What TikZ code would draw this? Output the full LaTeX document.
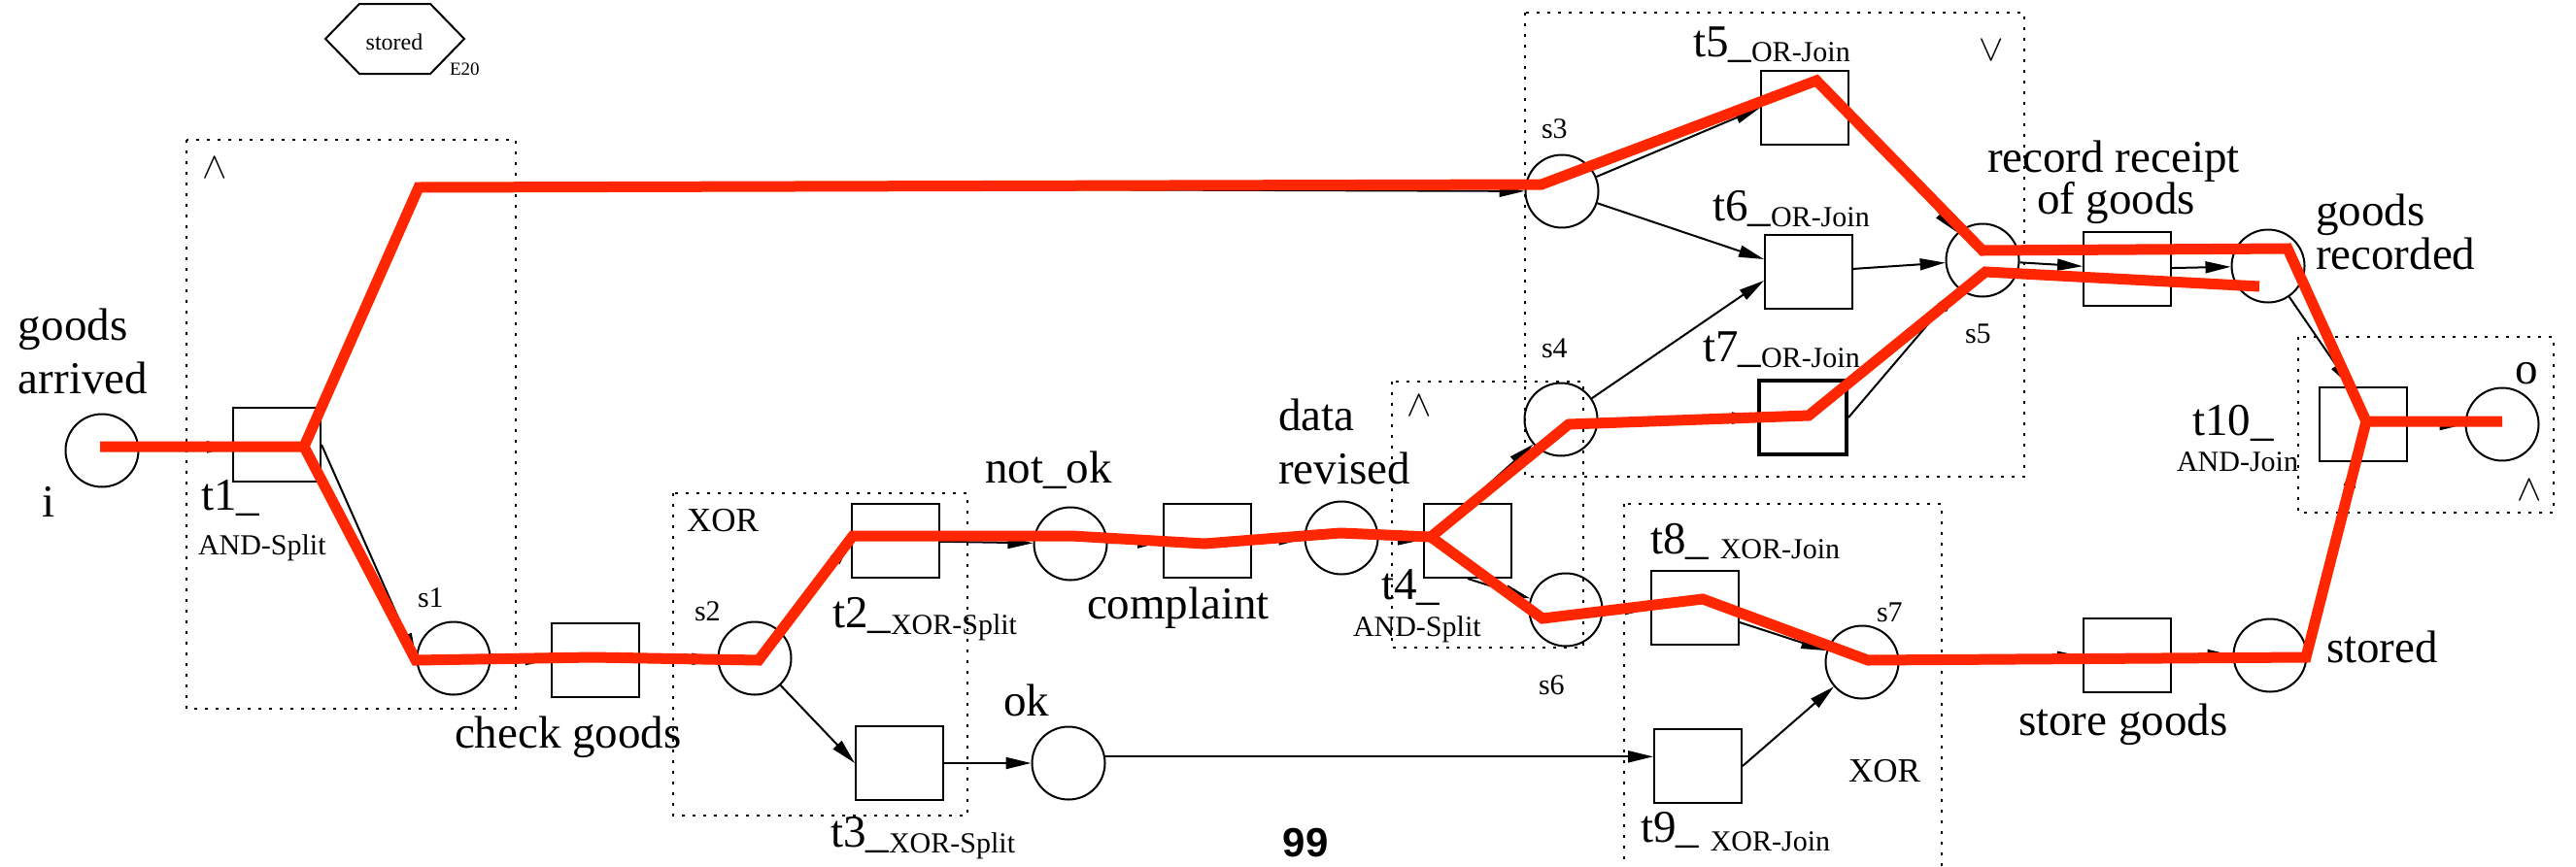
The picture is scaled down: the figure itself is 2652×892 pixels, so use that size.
\documentclass[tikz,border=0pt]{standalone}
\usepackage{fontspec}
\setmainfont{Liberation Serif}
\newfontfamily\numfont{Liberation Sans}
\usetikzlibrary{arrows.meta}
\definecolor{tracered}{RGB}{255,38,0}
\newcommand\biglab{\fontsize{47}{52}\selectfont}
\newcommand\smalllab{\fontsize{30}{34}\selectfont}
\newcommand\xorlab{\fontsize{35}{40}\selectfont}
\newcommand\andsym{\scalebox{3.8}{$\wedge$}}
\newcommand\orsym{\scalebox{3.8}{$\vee$}}
\begin{document}
\begin{tikzpicture}[x=1pt,y=-1pt,
  place/.style={circle, draw, line width=2pt, minimum size=75pt, inner sep=0pt},
  trans/.style={rectangle, draw, line width=2pt, minimum width=90pt, minimum height=76pt, inner sep=0pt},
  flow/.style={line width=2pt, -{Triangle[length=26pt,width=12pt]}},
  grp/.style={draw, line width=2pt, dash pattern=on 3pt off 8pt},
  trace/.style={line width=11pt, draw=tracered},
  lab/.style={anchor=base west, inner sep=0pt, outer sep=0pt},
  big/.style={lab, font=\biglab},
  small/.style={lab, font=\smalllab}]
\useasboundingbox (0,0) rectangle (2652,892);

% group boxes
\draw[grp] (192,144) rectangle (531,730);
\draw[grp] (693,508) rectangle (996,840);
\draw[grp] (1433,393) rectangle (1630,667);
\draw[grp] (1570,13) rectangle (2084,491);
\draw[grp] (2366,347) rectangle (2629,528);
\draw[grp] (1672,519) rectangle (1999,905);

% hexagon event
\draw[line width=2pt] (335,40) -- (370,4) -- (443,4) -- (478,40) -- (443,76) -- (370,76) -- cycle;
\node[anchor=base, inner sep=0pt, font=\fontsize{24}{28}\selectfont] (hex) at (406,51) {stored};
\node[lab, font=\fontsize{19}{22}\selectfont] (e20) at (463,77) {E20};

% places and transitions
\node[place] (i) at (105,464) {};
\node[trans] (t1) at (285,458) {};
\node[place] (s1) at (467,678) {};
\node[trans] (cg) at (613,680) {};
\node[place] (s2) at (777,678) {};
\node[trans] (t2) at (922,557) {};
\node[trans] (t3) at (926,786) {};
\node[place] (nok) at (1102,560) {};
\node[trans] (cpl) at (1243,557) {};
\node[place] (dr) at (1381,554) {};
\node[trans] (t4) at (1511,557) {};
\node[place] (s4) at (1607,432) {};
\node[place] (s6) at (1612,628) {};
\node[place] (s3) at (1608,197) {};
\node[trans] (t5) at (1858,111) {};
\node[trans] (t6) at (1862,280) {};
\node[trans, line width=4pt] (t7) at (1856,430) {};
\node[place] (s5) at (2041,268) {};
\node[trans] (rr) at (2190,277) {};
\node[place] (gr) at (2335,274) {};
\node[trans] (t10) at (2433,437) {};
\node[place] (o) at (2576,437) {};
\node[place] (ok) at (1100,786) {};
\node[trans] (t8) at (1745,626) {};
\node[trans] (t9) at (1748,789) {};
\node[place] (s7) at (1917,682) {};
\node[trans] (sg) at (2190,675) {};
\node[place] (st) at (2337,675) {};

% arcs
\coordinate (b1) at (431,193);
\draw[flow] (i) -- (t1);
\draw[flow] (t1.north east) -- (b1) -- (s3);
\draw[flow] (t1.east) -- (s1.west);
\draw[flow] (s1) -- (cg);
\draw[flow] (cg) -- (s2);
\draw[flow] (s2) -- (t2.west);
\draw[flow] (s2) -- (t3.west);
\draw[flow] (t2) -- (nok);
\draw[flow] (nok) -- (cpl);
\draw[flow] (cpl) -- (dr);
\draw[flow] (dr) -- (t4);
\draw[flow] (t4.north) -- (s4);
\draw[flow] (t4.south) -- (s6);
\draw[flow] (t3) -- (ok);
\draw[flow] (ok.10) -- (ok.10 -| t9.west);
\draw[flow] (s6) -- (t8);
\draw[flow] (t8) -- (s7);
\draw[flow] (t9.east) -- (s7);
\draw[flow] (s7) -- (sg);
\draw[flow] (sg) -- (st);
\draw[flow] (st.east) -- ([xshift=-8pt]t10.south);
\draw[flow] (gr) -- ([xshift=-13pt]t10.north);
\draw[flow] (t10) -- (o);
\draw[flow] (s3) -- (t5.west);
\draw[flow] (s3) -- ([yshift=13pt]t6.west);
\draw[flow] (s4) -- ([yshift=-9pt]t6.west);
\draw[flow] (s4) -- (t7);
\draw[flow] ([yshift=-6pt]t5.east) -- (s5);
\draw[flow] (t6) -- (s5);
\draw[flow] (t7.east) -- (s5);
\draw[flow] (s5) -- (rr);
\draw[flow] (rr) -- (gr);

% labels
\node[big] (lga1) at (19,350) {goods};
\node[big] (lga2) at (19,405) {arrived};
\node[big] (li) at (43,532) {i};
\node[big] (lt1) at (207,525) {t1\_};
\node[small] (lt1b) at (204,571) {AND-Split};
\node[small] (ls1) at (430,625) {s1};
\node[small] (ls2) at (715,639) {s2};
\node[big] (lcg) at (468,770) {check goods};
\node[lab, font=\xorlab] (lxorb) at (707,547) {XOR};
\node[big] (lt2) at (857,646) {t2\_\raisebox{-7pt}{\smalllab XOR-Split}};
\node[big] (lt3) at (855,872) {t3\_\raisebox{-6pt}{\smalllab XOR-Split}};
\node[big] (lnok) at (1014,497) {not\_ok};
\node[big] (lcpl) at (1119,637) {complaint};
\node[big] (ldr1) at (1316,443) {data};
\node[big] (ldr2) at (1316,498) {revised};
\node[big] (lt4) at (1422,617) {t4\_};
\node[small] (lt4b) at (1393,655) {AND-Split};
\node[small] (ls6) at (1584,715) {s6};
\node[big] (lok) at (1033,737) {ok};
\node[anchor=center, inner sep=0pt, font=\numfont\bfseries\fontsize{42}{46}\selectfont] (l99) at (1344,868) {99};
\node[small] (ls3) at (1587,142) {s3};
\node[big] (lt5) at (1743,58) {t5\_\raisebox{-5pt}{\smalllab OR-Join}};
\node[lab] (lor) at (2037,62) {\orsym};
\node[big] (lt6) at (1763,227) {t6\_\raisebox{-6pt}{\smalllab OR-Join}};
\node[small] (ls4) at (1587,368) {s4};
\node[big] (lt7) at (1753,372) {t7\_\raisebox{-6pt}{\smalllab OR-Join}};
\node[small] (ls5) at (2023,353) {s5};
\node[lab] (landc) at (1448,428) {\andsym};
\node[big] (lrr1) at (2046,177) {record receipt};
\node[big] (lrr2) at (2097,220) {of goods};
\node[big] (lgr1) at (2384,232) {goods};
\node[big] (lgr2) at (2384,277) {recorded};
\node[big] (lt10) at (2257,448) {t10\_};
\node[small] (lt10b) at (2241,485) {AND-Join};
\node[big] (lo) at (2589,395) {o};
\node[lab] (lande) at (2591,515) {\andsym};
\node[lab] (landa) at (208,183) {\andsym};
\node[big] (lt8) at (1699,570) {t8\_ \raisebox{-5pt}{\smalllab XOR-Join}};
\node[small] (ls7) at (1932,640) {s7};
\node[big] (lt9) at (1689,867) {t9\_ \raisebox{-9pt}{\smalllab XOR-Join}};
\node[lab, font=\xorlab] (lxorf) at (1903,805) {XOR};
\node[big] (lsg) at (2078,757) {store goods};
\node[big] (lst) at (2395,682) {stored};

% red trace
\coordinate (r1) at (103,460);
\coordinate (r2) at (313,460);
\coordinate (r3) at (431,193);
\coordinate (r4) at (1587,190);
\coordinate (r5) at (1870,83);
\coordinate (r6) at (2041,258);
\coordinate (r7) at (2355,256);
\coordinate (r8) at (2436,434);
\coordinate (r9) at (2576,434);
\coordinate (q1) at (428,680);
\coordinate (q2) at (610,677);
\coordinate (q3) at (781,680);
\coordinate (q4) at (878,552);
\coordinate (q5) at (1103,552);
\coordinate (q6) at (1240,560);
\coordinate (q7) at (1380,549);
\coordinate (q8) at (1473,553);
\coordinate (u1) at (1615,437);
\coordinate (u2) at (1862,428);
\coordinate (u3) at (2044,280);
\coordinate (u4) at (2326,295);
\coordinate (d1) at (1588,637);
\coordinate (d2) at (1753,617);
\coordinate (d3) at (1923,680);
\coordinate (d4) at (2374,677);
\draw[trace] (r1) -- (r2) -- (r3) -- (r4) -- (r5) -- (r6) -- (r7) -- (r8) -- (r9);
\draw[trace] (r2) -- (q1) -- (q2) -- (q3) -- (q4) -- (q5) -- (q6) -- (q7) -- (q8);
\draw[trace] (q8) -- (u1) -- (u2) -- (u3) -- (u4);
\draw[trace] (q8) -- (d1) -- (d2) -- (d3) -- (d4) -- (r8);
\end{tikzpicture}
\end{document}
